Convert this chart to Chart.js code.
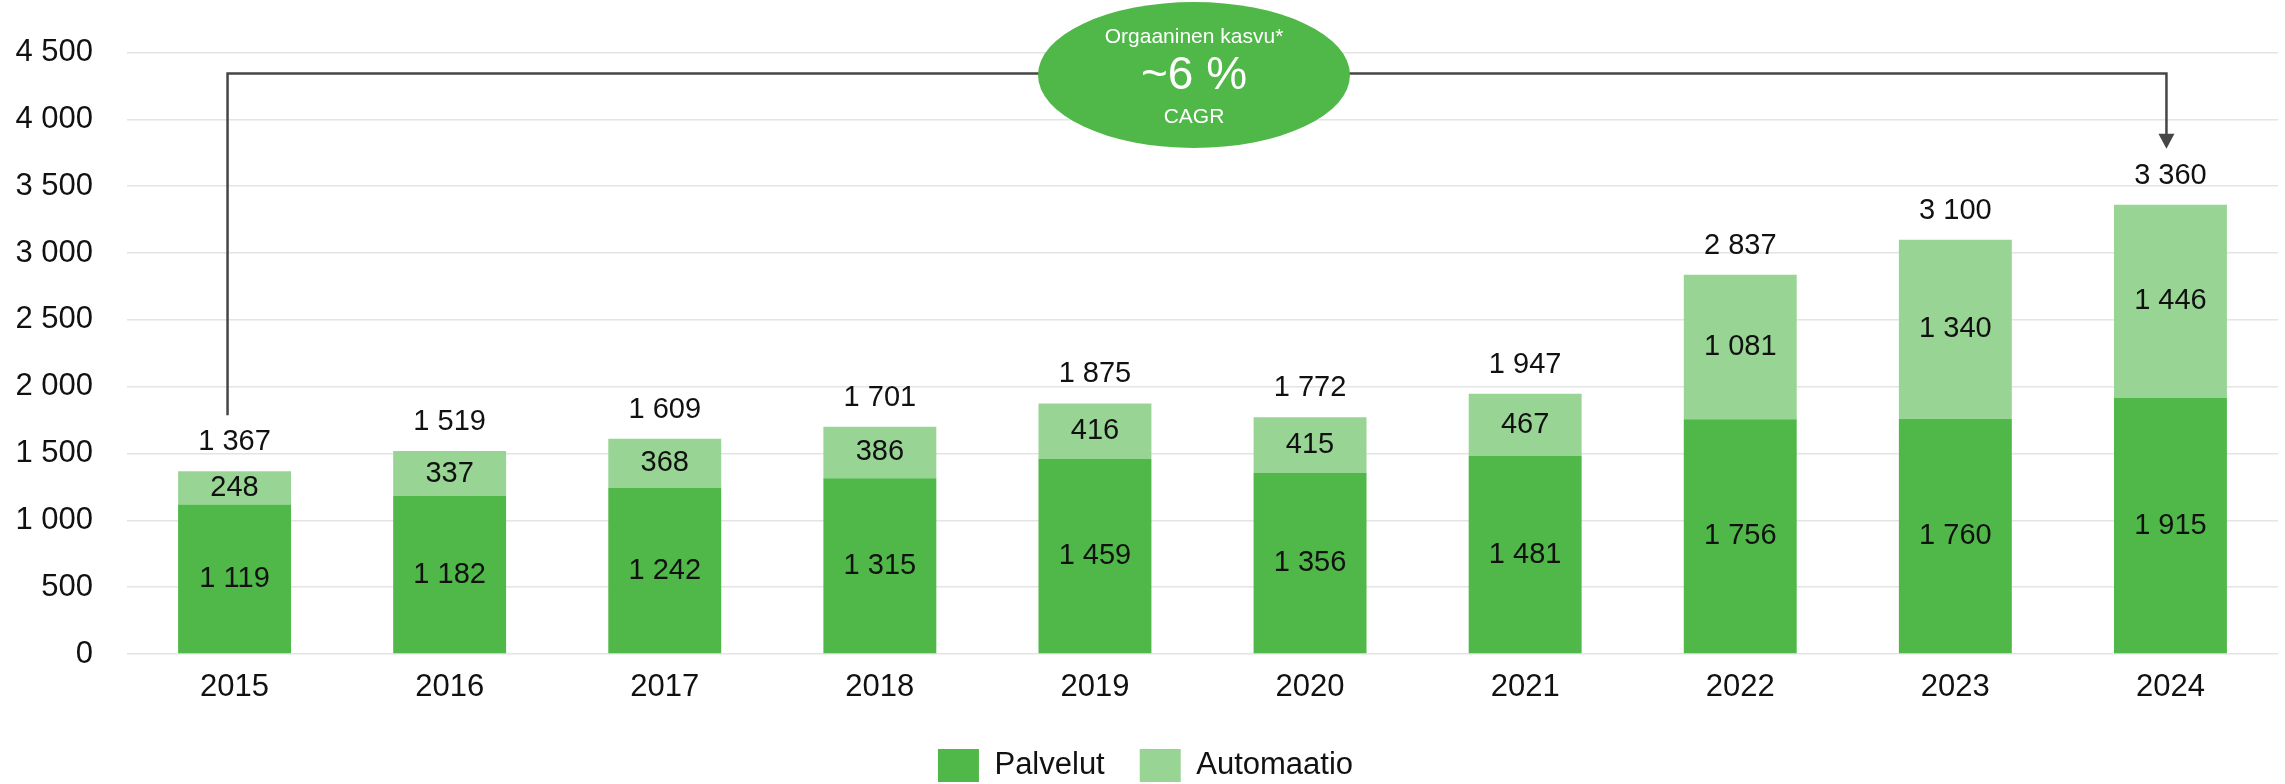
<!DOCTYPE html>
<html>
<head>
<meta charset="utf-8">
<script src="https://cdn.jsdelivr.net/npm/chart.js@4.4.0/dist/chart.umd.min.js"></script>
<style>
  html, body { margin: 0; padding: 0; background: #fff; }
  #wrap { width: 2285px; height: 784px; }
</style>
</head>
<body>
<div id="wrap"><canvas id="chart" width="2285" height="784"></canvas></div>
<script>
const years = ['2015', '2016', '2017', '2018', '2019', '2020', '2021', '2022', '2023', '2024'];
const palvelut = [1119, 1182, 1242, 1315, 1459, 1356, 1481, 1756, 1760, 1915];
const automaatio = [248, 337, 368, 386, 416, 415, 467, 1081, 1340, 1446];
// totals as printed (rounded, not always the exact sum)
const totals = [1367, 1519, 1609, 1701, 1875, 1772, 1947, 2837, 3100, 3360];
const yTickValues = [0, 500, 1000, 1500, 2000, 2500, 3000, 3500, 4000, 4500];
const cagrText = ['Orgaaninen kasvu*', '~6 %', 'CAGR'];

const FONT = '"Liberation Sans", Arial, sans-serif';
const TEXT = '#111111';
const DARK = '#50b848';
const LIGHT = '#98d594';

function fmt(v) {
  return String(v).replace(/\B(?=(\d{3})+(?!\d))/g, ' ');
}

// segment values + totals above the bars
const valueLabels = {
  id: 'valueLabels',
  afterDatasetsDraw(chart) {
    const ctx = chart.ctx;
    ctx.save();
    ctx.font = '29px ' + FONT;
    ctx.fillStyle = TEXT;
    ctx.textAlign = 'center';
    ctx.textBaseline = 'middle';
    chart.data.datasets.forEach((ds, i) => {
      chart.getDatasetMeta(i).data.forEach((bar, j) => {
        ctx.fillText(fmt(ds.data[j]), bar.x, (bar.y + bar.base) / 2);
      });
    });
    chart.getDatasetMeta(1).data.forEach((bar, j) => {
      ctx.fillText(fmt(totals[j]), bar.x, bar.y - 29);
    });
    ctx.restore();
  }
};

// bracket from first to last bar with the CAGR bubble
const cagrBracket = {
  id: 'cagrBracket',
  afterDraw(chart) {
    const ctx = chart.ctx;
    const bars = chart.getDatasetMeta(1).data;
    const first = bars[0];
    const last = bars[bars.length - 1];
    const x1 = first.x - 7;
    const x2 = last.x - 4;
    const yTop = chart.chartArea.top + 21;
    const tip = last.y - 56;

    ctx.save();
    ctx.strokeStyle = '#464646';
    ctx.lineWidth = 2.5;
    ctx.beginPath();
    ctx.moveTo(x1, first.y - 56);
    ctx.lineTo(x1, yTop);
    ctx.lineTo(x2, yTop);
    ctx.lineTo(x2, tip - 14);
    ctx.stroke();

    ctx.fillStyle = '#464646';
    ctx.beginPath();
    ctx.moveTo(x2 - 8, tip - 15);
    ctx.lineTo(x2 + 8, tip - 15);
    ctx.lineTo(x2, tip);
    ctx.closePath();
    ctx.fill();

    const cx = (x1 + x2) / 2 - 3;
    const cy = 75;
    ctx.fillStyle = DARK;
    ctx.beginPath();
    ctx.ellipse(cx, cy, 156, 73, 0, 0, Math.PI * 2);
    ctx.fill();

    ctx.fillStyle = '#ffffff';
    ctx.textAlign = 'center';
    ctx.textBaseline = 'middle';
    ctx.font = '21px ' + FONT;
    ctx.fillText(cagrText[0], cx, 37);
    ctx.font = '46px ' + FONT;
    ctx.fillText(cagrText[1], cx, 76);
    ctx.font = '21px ' + FONT;
    ctx.fillText(cagrText[2], cx, 117);
    ctx.restore();
  }
};

new Chart(document.getElementById('chart'), {
  type: 'bar',
  data: {
    labels: years,
    datasets: [
      { label: 'Palvelut', data: palvelut, backgroundColor: DARK },
      { label: 'Automaatio', data: automaatio, backgroundColor: LIGHT }
    ]
  },
  options: {
    responsive: false,
    animation: false,
    devicePixelRatio: 1,
    categoryPercentage: 1,
    barPercentage: 0.525,
    layout: { padding: { left: 13, right: 7, top: 48, bottom: -8 } },
    plugins: {
      tooltip: { enabled: false },
      legend: {
        position: 'bottom',
        labels: {
          boxWidth: 41,
          boxHeight: 33,
          padding: 35,
          color: TEXT,
          font: { size: 31, family: FONT }
        }
      }
    },
    scales: {
      x: {
        stacked: true,
        grid: { display: false, drawTicks: false },
        border: { display: false },
        ticks: { padding: 15, color: TEXT, font: { size: 31, family: FONT } },
        afterFit(scale) { scale.height = 60; }
      },
      y: {
        stacked: true,
        min: 0,
        max: 4500,
        afterBuildTicks(scale) { scale.ticks = yTickValues.map(v => ({ value: v })); },
        ticks: {
          padding: 34,
          color: TEXT,
          font: { size: 31, family: FONT },
          callback: v => fmt(v)
        },
        grid: { color: '#e4e4e4', lineWidth: 1.5, drawTicks: false },
        border: { display: false },
        afterFit(scale) { scale.width = 114; }
      }
    }
  },
  plugins: [valueLabels, cagrBracket]
});
</script>
</body>
</html>
